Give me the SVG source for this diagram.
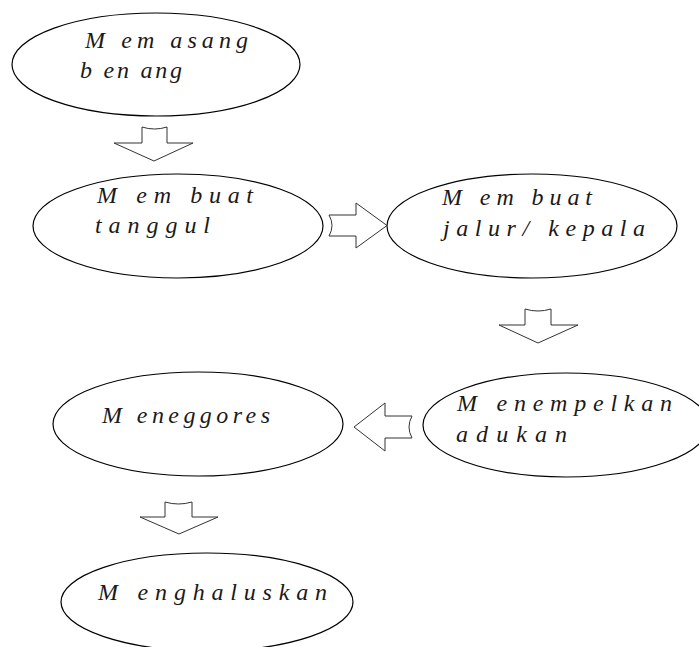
<svg xmlns="http://www.w3.org/2000/svg" width="699" height="647" viewBox="0 0 699 647">
<style>
.node ellipse{fill:#fff;stroke:#000;stroke-width:1.2}
.node text{font-family:'Liberation Serif','Times New Roman',serif;font-style:italic;font-size:24px;fill:#1a1a1a}
.conn path{fill:#fff;stroke:#333;stroke-width:1}
</style>
<rect width="699" height="647" fill="#fff"/>
<g id="n1" class="node">
<ellipse cx="156" cy="64.5" rx="144" ry="51.5"/>
<text x="85" y="48" textLength="163" lengthAdjust="spacing">M em asang</text>
<text x="80" y="78" textLength="102" lengthAdjust="spacing">b en ang</text>
</g>
<g id="n2" class="node">
<ellipse cx="178" cy="226" rx="145" ry="52"/>
<text x="97" y="203" textLength="156" lengthAdjust="spacing">M em buat</text>
<text x="95" y="233" textLength="115" lengthAdjust="spacing">tanggul</text>
</g>
<g id="n3" class="node">
<ellipse cx="532" cy="226" rx="145" ry="52"/>
<text x="442" y="205" textLength="150" lengthAdjust="spacing">M em buat</text>
<text x="443" y="236" textLength="202" lengthAdjust="spacing">jalur/ kepala</text>
</g>
<g id="n4" class="node">
<ellipse cx="566" cy="425" rx="143" ry="52"/>
<text x="457" y="411" textLength="215" lengthAdjust="spacing">M enempelkan</text>
<text x="456" y="442" textLength="111" lengthAdjust="spacing">adukan</text>
</g>
<g id="n5" class="node">
<ellipse cx="198" cy="424" rx="145" ry="52"/>
<text x="102" y="423" textLength="168" lengthAdjust="spacing">M eneggores</text>
</g>
<g id="n6" class="node">
<ellipse cx="207" cy="602" rx="146" ry="49"/>
<text x="98" y="600" textLength="229" lengthAdjust="spacing">M enghaluskan</text>
</g>
<g id="connectors" class="conn">
<path d="M142,127 Q154.5,131 167,127 L167,143 L193,143 L154,161 L114,143 L142,143 Z"/>
<path d="M329,215 Q335,225.5 329,236 L356,236 L356,248 L387,225.5 L356,203 L356,215 Z"/>
<path d="M525,309 Q538,313 551,309 L551,325 L578,325 L538,343 L499,325 L525,325 Z"/>
<path d="M412,416 Q406,427 412,438 L385,438 L385,451 L354,427 L385,403 L385,416 Z"/>
<path d="M165,502 Q178.5,506 192,502 L192,517 L218,517 L179,534 L140,517 L165,517 Z"/>
</g>
</svg>
